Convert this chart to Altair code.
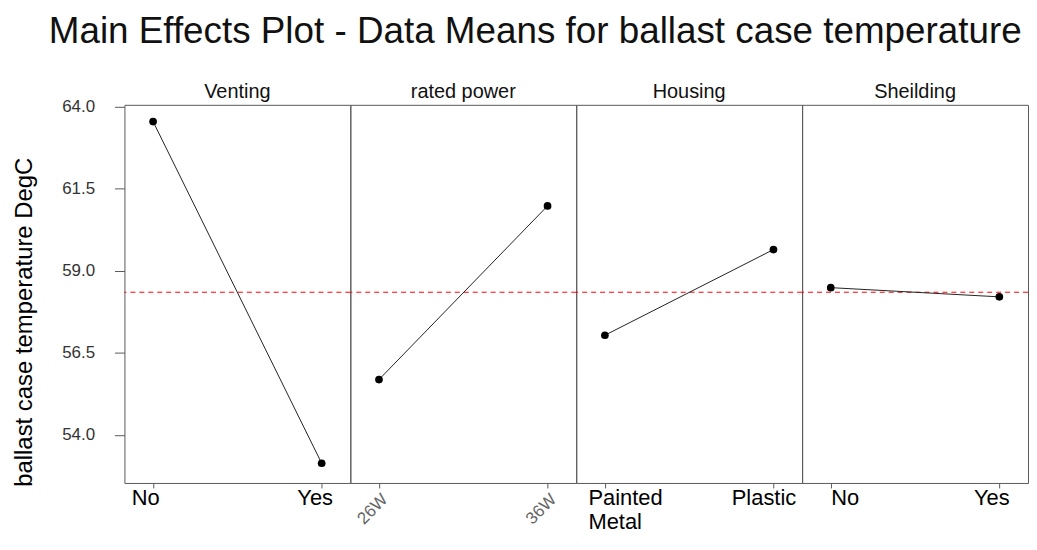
import altair as alt
import pandas as pd

# ---- data ----
factors = ["Venting", "rated power", "Housing", "Sheilding"]
levels = [["No", "Yes"], ["26W", "36W"], ["Painted Metal", "Plastic"], ["No", "Yes"]]
means = [[63.54, 53.13], [55.68, 60.97], [57.03, 59.64], [58.48, 58.20]]
grand_mean = [58.34]
y_ticks = [54.0, 56.5, 59.0, 61.5, 64.0]
y_domain = [52.53, 64.05]

# label nudges (style only), per panel: (offset for first level, offset for second level)
label_offsets = [(-8, -7), (0, 0), (-17, -10), (14, -8)]

FONT = "Liberation Sans"
FRAME = "#5a5a5a"
PANEL_W = 227
PANEL_H = 380


def panel(i):
    df = pd.DataFrame({"level": levels[i], "mean": means[i]})
    ref_df = pd.DataFrame({"mean": grand_mean})

    if i == 0:
        y_axis = alt.Axis(
            values=y_ticks, format=".1f", title="ballast case temperature DegC",
            titleFontSize=24, titleFontWeight="normal", titleColor="black", titleFont=FONT,
            titleAngle=270, titleAlign="center", titleBaseline="middle",
            titleX=-100, titleY=218,
            labelFontSize=17, labelColor="#333333", labelPadding=20, labelFont=FONT,
            labelAlign="right", labelBaseline="middle",
            tickSize=10, tickColor=FRAME, domain=False, grid=False,
        )
    else:
        y_axis = None
    y_scale = alt.Scale(domain=y_domain, nice=False, zero=False)
    y = alt.Y("mean:Q", scale=y_scale, axis=y_axis)

    first, second = levels[i]
    off1, off2 = label_offsets[i]
    if i == 1:
        x_axis = alt.Axis(
            title=None, labelAngle=-45, labelFontSize=17, labelColor="#666666",
            labelFont=FONT, labelPadding=3, tickSize=5, tickColor=FRAME,
            domain=False, grid=False,
        )
    else:
        align = "left" if i == 2 else "center"
        x_axis = alt.Axis(
            title=None, labelAngle=0, labelFontSize=22, labelColor="black",
            labelFont=FONT, labelPadding=0, tickSize=5, tickColor=FRAME,
            domain=False, grid=False, labelLineHeight=24,
            labelExpr="split(datum.label, ' ')",
            labelOffset={"condition": {"test": f"datum.value == '{first}'", "value": off1},
                         "value": off2},
            labelAlign={"condition": {"test": f"datum.value == '{first}'", "value": align},
                        "value": "center"},
        )
    x = alt.X("level:N", sort=levels[i],
              scale=alt.Scale(type="point", padding=0.17), axis=x_axis)

    ref = alt.Chart(ref_df).mark_rule(
        color="#ff0000", strokeDash=[5, 4], strokeWidth=1
    ).encode(y=y)
    line = alt.Chart(df).mark_line(color="#222222", strokeWidth=1).encode(x=x, y=y)
    pts = alt.Chart(df).mark_circle(size=60, color="black", opacity=1).encode(x=x, y=y)

    return alt.layer(ref, line, pts).properties(
        width=PANEL_W, height=PANEL_H,
        title=alt.TitleParams(
            factors[i], fontSize=20, fontWeight="normal", color="#111111",
            font=FONT, anchor="middle", offset=3, dy=7 if i == 0 else 0,
        ),
    )


chart = alt.hconcat(*[panel(i) for i in range(4)], spacing=0, bounds="flush").properties(
    title=alt.TitleParams(
        "Main Effects Plot - Data Means for ballast case temperature",
        fontSize=37, fontWeight="normal", color="#111111", font=FONT,
        anchor="start", frame="group", dx=-76, offset=30,
    ),
    padding={"left": 4, "top": 4, "right": 0, "bottom": 0},
).configure(
    font=FONT, background="white"
).configure_view(
    stroke=FRAME, strokeWidth=1
).configure_axisY(
    labelPadding=20, tickSize=10, labelAlign="right"
)

chart.save("out.html", embed_options={"renderer": "svg", "actions": False})
